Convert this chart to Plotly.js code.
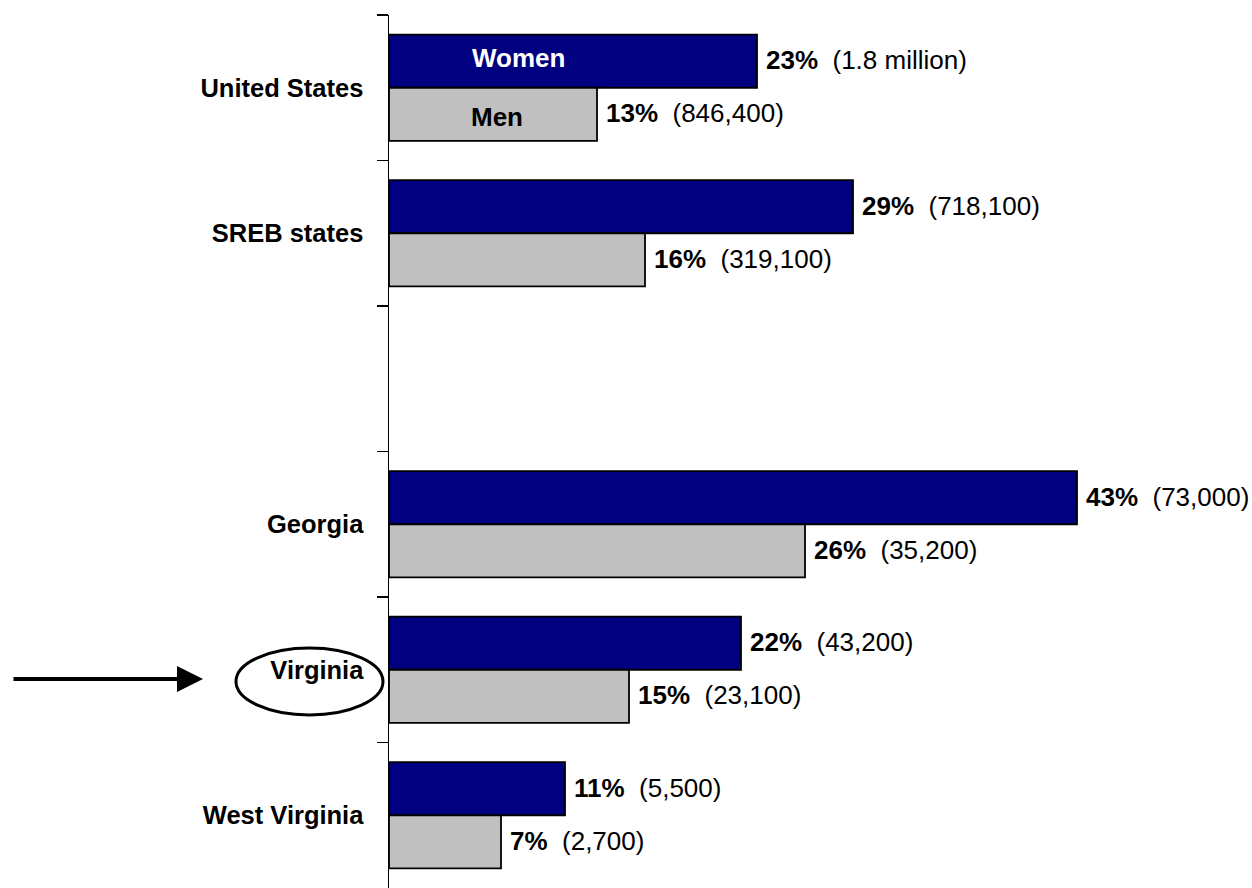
<!DOCTYPE html>
<html><head><meta charset="utf-8">
<script src="https://cdn.plot.ly/plotly-3.0.1.min.js"></script>
<style>body{margin:0;background:#fff}#chart{width:1252px;height:888px}</style>
</head><body><div id="chart"></div>
<script>
const categories = ["United States", "SREB states", " ", "Georgia", "Virginia", "West Virginia"];
const womenPct = [23, 29, null, 43, 22, 11];
const menPct = [13, 16, null, 26, 15, 7];
const womenCount = ["1.8 million", "718,100", null, "73,000", "43,200", "5,500"];
const menCount = ["846,400", "319,100", null, "35,200", "23,100", "2,700"];

const FONT = "Liberation Sans, Arial, sans-serif";
const BARGAP = 0.27;
const half = (1 - BARGAP) / 4;

const traces = [
  {type: "bar", orientation: "h", name: "Women", y: categories, x: womenPct,
   marker: {color: "#000080", line: {color: "#000", width: 1.8}}, hoverinfo: "skip"},
  {type: "bar", orientation: "h", name: "Men", y: categories, x: menPct,
   marker: {color: "#C0C0C0", line: {color: "#000", width: 1.8}}, hoverinfo: "skip"}
];

const sp = "&nbsp;&nbsp;";
const annotations = [];
categories.forEach((c, i) => {
  if (womenPct[i] != null) {
    annotations.push({x: womenPct[i], y: i - half, xref: "x", yref: "y", xanchor: "left", yanchor: "middle",
      xshift: 7, yshift: 1, showarrow: false, font: {family: FONT, size: 26, color: "#000"},
      text: "<b>" + womenPct[i] + "%</b>" + sp + "(" + womenCount[i] + ")"});
  }
  if (menPct[i] != null) {
    annotations.push({x: menPct[i], y: i + half, xref: "x", yref: "y", xanchor: "left", yanchor: "middle",
      xshift: 7, yshift: 1, showarrow: false, font: {family: FONT, size: 26, color: "#000"},
      text: "<b>" + menPct[i] + "%</b>" + sp + "(" + menCount[i] + ")"});
  }
});
annotations.push({x: 8.1, y: -half, xref: "x", yref: "y", yshift: 3, showarrow: false,
  text: "<b>Women</b>", font: {family: FONT, size: 26, color: "#fff"}});
annotations.push({x: 6.75, y: half, xref: "x", yref: "y", yshift: -3, showarrow: false,
  text: "<b>Men</b>", font: {family: FONT, size: 26, color: "#000"}});
annotations.push({x: -0.2325, y: 0.2394, xref: "paper", yref: "paper", ax: -191, ay: 0,
  showarrow: true, arrowhead: 2, arrowsize: 1.3, arrowwidth: 4, arrowcolor: "#000", text: ""});

const layout = {
  width: 1252, height: 888,
  margin: {l: 389, r: 63, t: 15, b: 0, pad: 0},
  paper_bgcolor: "#fff", plot_bgcolor: "#fff",
  barmode: "group", bargap: BARGAP, bargroupgap: 0,
  showlegend: false,
  font: {family: FONT, size: 25, color: "#000"},
  xaxis: {range: [0, 50], visible: false, fixedrange: true},
  yaxis: {autorange: "reversed", type: "category", showline: true, linecolor: "#000", linewidth: 1.5,
    ticks: "outside", ticklen: 11, tickwidth: 1.5, tickcolor: "#000", tickson: "boundaries",
    showgrid: false, zeroline: false, ticklabelstandoff: 19,
    tickfont: {family: FONT, size: 25.5, color: "#000", weight: "bold"}},
  annotations: annotations,
  shapes: [{type: "circle", xref: "paper", yref: "paper", x0: -0.19125, x1: -0.0075, y0: 0.1982, y1: 0.2749,
    line: {color: "#000", width: 3}}]
};
Plotly.newPlot("chart", traces, layout, {staticPlot: true});
</script></body></html>
